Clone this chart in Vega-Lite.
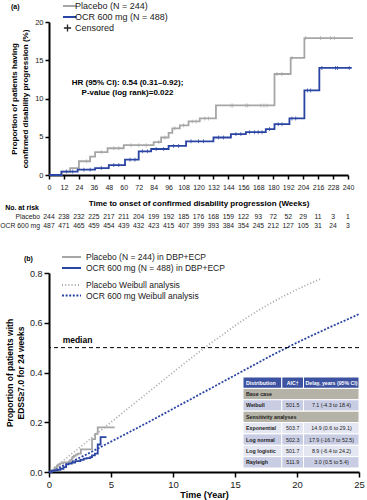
{
"$schema": "https://vega.github.io/schema/vega-lite/v6.json",
"padding": {"left": 0, "top": 1, "right": 4, "bottom": 1},
"spacing": 22,
"resolve": {"scale": {"color": "independent", "stroke": "independent", "strokeDash": "independent", "fill": "independent"}, "legend": {"color": "independent", "stroke": "independent", "strokeDash": "independent"}},
"config": {
 "view": {"stroke": null},
 "font": "Liberation Sans",
 "axis": {"domainColor": "#000", "domainWidth": 2, "tickColor": "#000", "tickWidth": 1.5, "labelColor": "#1a1a1a", "titleColor": "#000", "grid": false, "labelFont": "Liberation Sans", "titleFont": "Liberation Sans"},
 "legend": {"labelFont": "Liberation Sans", "labelColor": "#1a1a1a"},
 "title": {"font": "Liberation Sans", "color": "#000"}
},
"datasets": {
 "kmA": [
  {"arm": "Placebo (N = 244)", "t": 0, "v": 0}, {"arm": "Placebo (N = 244)", "t": 10, "v": 0.45}, {"arm": "Placebo (N = 244)", "t": 17, "v": 0.9}, {"arm": "Placebo (N = 244)", "t": 24, "v": 1.8}, {"arm": "Placebo (N = 244)", "t": 33, "v": 2.4}, {"arm": "Placebo (N = 244)", "t": 37, "v": 3.0}, {"arm": "Placebo (N = 244)", "t": 47, "v": 3.5}, {"arm": "Placebo (N = 244)", "t": 60, "v": 3.9}, {"arm": "Placebo (N = 244)", "t": 84, "v": 4.3}, {"arm": "Placebo (N = 244)", "t": 90, "v": 4.9}, {"arm": "Placebo (N = 244)", "t": 96, "v": 5.5}, {"arm": "Placebo (N = 244)", "t": 99, "v": 6.1}, {"arm": "Placebo (N = 244)", "t": 105, "v": 6.5}, {"arm": "Placebo (N = 244)", "t": 112, "v": 7.0}, {"arm": "Placebo (N = 244)", "t": 121, "v": 7.4}, {"arm": "Placebo (N = 244)", "t": 134, "v": 9.1}, {"arm": "Placebo (N = 244)", "t": 181, "v": 13.2}, {"arm": "Placebo (N = 244)", "t": 194, "v": 15.3}, {"arm": "Placebo (N = 244)", "t": 205, "v": 17.9}, {"arm": "Placebo (N = 244)", "t": 244, "v": 17.9},
  {"arm": "OCR 600 mg (N = 488)", "t": 0, "v": 0}, {"arm": "OCR 600 mg (N = 488)", "t": 10, "v": 0.45}, {"arm": "OCR 600 mg (N = 488)", "t": 23, "v": 0.7}, {"arm": "OCR 600 mg (N = 488)", "t": 37, "v": 0.9}, {"arm": "OCR 600 mg (N = 488)", "t": 48, "v": 1.3}, {"arm": "OCR 600 mg (N = 488)", "t": 61, "v": 2.0}, {"arm": "OCR 600 mg (N = 488)", "t": 72, "v": 3.1}, {"arm": "OCR 600 mg (N = 488)", "t": 82, "v": 3.4}, {"arm": "OCR 600 mg (N = 488)", "t": 96, "v": 3.8}, {"arm": "OCR 600 mg (N = 488)", "t": 110, "v": 4.4}, {"arm": "OCR 600 mg (N = 488)", "t": 132, "v": 4.9}, {"arm": "OCR 600 mg (N = 488)", "t": 146, "v": 5.35}, {"arm": "OCR 600 mg (N = 488)", "t": 158, "v": 5.6}, {"arm": "OCR 600 mg (N = 488)", "t": 174, "v": 6.0}, {"arm": "OCR 600 mg (N = 488)", "t": 181, "v": 6.65}, {"arm": "OCR 600 mg (N = 488)", "t": 193, "v": 7.4}, {"arm": "OCR 600 mg (N = 488)", "t": 205, "v": 11.05}, {"arm": "OCR 600 mg (N = 488)", "t": 217, "v": 14.0}, {"arm": "OCR 600 mg (N = 488)", "t": 243, "v": 14.0}
 ],
 "censA": [
  {"arm": "Placebo (N = 244)", "t": 30, "v": 1.8}, {"arm": "Placebo (N = 244)", "t": 42, "v": 3.0}, {"arm": "Placebo (N = 244)", "t": 52, "v": 3.5}, {"arm": "Placebo (N = 244)", "t": 56, "v": 3.5}, {"arm": "Placebo (N = 244)", "t": 66, "v": 3.9}, {"arm": "Placebo (N = 244)", "t": 72, "v": 3.9}, {"arm": "Placebo (N = 244)", "t": 78, "v": 3.9}, {"arm": "Placebo (N = 244)", "t": 88, "v": 4.3}, {"arm": "Placebo (N = 244)", "t": 93, "v": 4.9}, {"arm": "Placebo (N = 244)", "t": 101, "v": 6.1}, {"arm": "Placebo (N = 244)", "t": 108, "v": 6.5}, {"arm": "Placebo (N = 244)", "t": 115, "v": 7.0}, {"arm": "Placebo (N = 244)", "t": 118, "v": 7.0}, {"arm": "Placebo (N = 244)", "t": 125, "v": 7.4}, {"arm": "Placebo (N = 244)", "t": 128, "v": 7.4}, {"arm": "Placebo (N = 244)", "t": 146, "v": 9.1}, {"arm": "Placebo (N = 244)", "t": 147.5, "v": 9.1}, {"arm": "Placebo (N = 244)", "t": 158, "v": 9.1}, {"arm": "Placebo (N = 244)", "t": 159.5, "v": 9.1}, {"arm": "Placebo (N = 244)", "t": 170, "v": 9.1}, {"arm": "Placebo (N = 244)", "t": 172.5, "v": 9.1}, {"arm": "Placebo (N = 244)", "t": 175, "v": 9.1}, {"arm": "Placebo (N = 244)", "t": 183, "v": 13.2}, {"arm": "Placebo (N = 244)", "t": 187, "v": 13.2}, {"arm": "Placebo (N = 244)", "t": 195, "v": 15.3}, {"arm": "Placebo (N = 244)", "t": 206, "v": 17.9}, {"arm": "Placebo (N = 244)", "t": 218, "v": 17.9}, {"arm": "Placebo (N = 244)", "t": 226, "v": 17.9}, {"arm": "Placebo (N = 244)", "t": 229, "v": 17.9},
  {"arm": "OCR 600 mg (N = 488)", "t": 14, "v": 0.45}, {"arm": "OCR 600 mg (N = 488)", "t": 19, "v": 0.45}, {"arm": "OCR 600 mg (N = 488)", "t": 28, "v": 0.7}, {"arm": "OCR 600 mg (N = 488)", "t": 33, "v": 0.7}, {"arm": "OCR 600 mg (N = 488)", "t": 42, "v": 0.9}, {"arm": "OCR 600 mg (N = 488)", "t": 52, "v": 1.3}, {"arm": "OCR 600 mg (N = 488)", "t": 56, "v": 1.3}, {"arm": "OCR 600 mg (N = 488)", "t": 65, "v": 2.0}, {"arm": "OCR 600 mg (N = 488)", "t": 69, "v": 2.0}, {"arm": "OCR 600 mg (N = 488)", "t": 75, "v": 3.1}, {"arm": "OCR 600 mg (N = 488)", "t": 79, "v": 3.1}, {"arm": "OCR 600 mg (N = 488)", "t": 86, "v": 3.4}, {"arm": "OCR 600 mg (N = 488)", "t": 92, "v": 3.4}, {"arm": "OCR 600 mg (N = 488)", "t": 100, "v": 3.8}, {"arm": "OCR 600 mg (N = 488)", "t": 104, "v": 3.8}, {"arm": "OCR 600 mg (N = 488)", "t": 114, "v": 4.4}, {"arm": "OCR 600 mg (N = 488)", "t": 120, "v": 4.4}, {"arm": "OCR 600 mg (N = 488)", "t": 124, "v": 4.4}, {"arm": "OCR 600 mg (N = 488)", "t": 136, "v": 4.9}, {"arm": "OCR 600 mg (N = 488)", "t": 140, "v": 4.9}, {"arm": "OCR 600 mg (N = 488)", "t": 150, "v": 5.35}, {"arm": "OCR 600 mg (N = 488)", "t": 154, "v": 5.35}, {"arm": "OCR 600 mg (N = 488)", "t": 161, "v": 5.6}, {"arm": "OCR 600 mg (N = 488)", "t": 165, "v": 5.6}, {"arm": "OCR 600 mg (N = 488)", "t": 168, "v": 5.6}, {"arm": "OCR 600 mg (N = 488)", "t": 171, "v": 5.6}, {"arm": "OCR 600 mg (N = 488)", "t": 177, "v": 6.0}, {"arm": "OCR 600 mg (N = 488)", "t": 184, "v": 6.65}, {"arm": "OCR 600 mg (N = 488)", "t": 187, "v": 6.65}, {"arm": "OCR 600 mg (N = 488)", "t": 195, "v": 7.4}, {"arm": "OCR 600 mg (N = 488)", "t": 198, "v": 7.4}, {"arm": "OCR 600 mg (N = 488)", "t": 207.5, "v": 11.05}, {"arm": "OCR 600 mg (N = 488)", "t": 210, "v": 11.05}, {"arm": "OCR 600 mg (N = 488)", "t": 219, "v": 14.0}, {"arm": "OCR 600 mg (N = 488)", "t": 230, "v": 14.0}, {"arm": "OCR 600 mg (N = 488)", "t": 231.5, "v": 14.0}, {"arm": "OCR 600 mg (N = 488)", "t": 241, "v": 14.0}
 ],
 "atRisk": [
  {"row": "Placebo", "t": 0, "n": 244}, {"row": "Placebo", "t": 12, "n": 238}, {"row": "Placebo", "t": 24, "n": 232}, {"row": "Placebo", "t": 36, "n": 225}, {"row": "Placebo", "t": 48, "n": 217}, {"row": "Placebo", "t": 60, "n": 211}, {"row": "Placebo", "t": 72, "n": 204}, {"row": "Placebo", "t": 84, "n": 199}, {"row": "Placebo", "t": 96, "n": 192}, {"row": "Placebo", "t": 108, "n": 185}, {"row": "Placebo", "t": 120, "n": 176}, {"row": "Placebo", "t": 132, "n": 168}, {"row": "Placebo", "t": 144, "n": 159}, {"row": "Placebo", "t": 156, "n": 122}, {"row": "Placebo", "t": 168, "n": 93}, {"row": "Placebo", "t": 180, "n": 72}, {"row": "Placebo", "t": 192, "n": 52}, {"row": "Placebo", "t": 204, "n": 29}, {"row": "Placebo", "t": 216, "n": 11}, {"row": "Placebo", "t": 228, "n": 3}, {"row": "Placebo", "t": 240, "n": 1},
  {"row": "OCR 600 mg", "t": 0, "n": 487}, {"row": "OCR 600 mg", "t": 12, "n": 471}, {"row": "OCR 600 mg", "t": 24, "n": 465}, {"row": "OCR 600 mg", "t": 36, "n": 459}, {"row": "OCR 600 mg", "t": 48, "n": 454}, {"row": "OCR 600 mg", "t": 60, "n": 439}, {"row": "OCR 600 mg", "t": 72, "n": 432}, {"row": "OCR 600 mg", "t": 84, "n": 423}, {"row": "OCR 600 mg", "t": 96, "n": 415}, {"row": "OCR 600 mg", "t": 108, "n": 407}, {"row": "OCR 600 mg", "t": 120, "n": 399}, {"row": "OCR 600 mg", "t": 132, "n": 393}, {"row": "OCR 600 mg", "t": 144, "n": 384}, {"row": "OCR 600 mg", "t": 156, "n": 354}, {"row": "OCR 600 mg", "t": 168, "n": 245}, {"row": "OCR 600 mg", "t": 180, "n": 212}, {"row": "OCR 600 mg", "t": 192, "n": 127}, {"row": "OCR 600 mg", "t": 204, "n": 105}, {"row": "OCR 600 mg", "t": 216, "n": 31}, {"row": "OCR 600 mg", "t": 228, "n": 24}, {"row": "OCR 600 mg", "t": 240, "n": 3}
 ],
 "riskLabels": [
  {"row": "No. at risk", "label": "No. at risk"}, {"row": "Placebo", "label": "Placebo"}, {"row": "OCR 600 mg", "label": "OCR 600 mg"}
 ],
 "kmB": [
  {"arm": "Placebo (N = 244) in DBP+ECP", "t": 0, "v": 0}, {"arm": "Placebo (N = 244) in DBP+ECP", "t": 0.19, "v": 0.0045}, {"arm": "Placebo (N = 244) in DBP+ECP", "t": 0.33, "v": 0.009}, {"arm": "Placebo (N = 244) in DBP+ECP", "t": 0.46, "v": 0.018}, {"arm": "Placebo (N = 244) in DBP+ECP", "t": 0.63, "v": 0.024}, {"arm": "Placebo (N = 244) in DBP+ECP", "t": 0.71, "v": 0.03}, {"arm": "Placebo (N = 244) in DBP+ECP", "t": 0.9, "v": 0.035}, {"arm": "Placebo (N = 244) in DBP+ECP", "t": 1.15, "v": 0.039}, {"arm": "Placebo (N = 244) in DBP+ECP", "t": 1.61, "v": 0.043}, {"arm": "Placebo (N = 244) in DBP+ECP", "t": 1.72, "v": 0.049}, {"arm": "Placebo (N = 244) in DBP+ECP", "t": 1.84, "v": 0.055}, {"arm": "Placebo (N = 244) in DBP+ECP", "t": 1.9, "v": 0.061}, {"arm": "Placebo (N = 244) in DBP+ECP", "t": 2.01, "v": 0.065}, {"arm": "Placebo (N = 244) in DBP+ECP", "t": 2.15, "v": 0.07}, {"arm": "Placebo (N = 244) in DBP+ECP", "t": 2.32, "v": 0.074}, {"arm": "Placebo (N = 244) in DBP+ECP", "t": 2.57, "v": 0.091}, {"arm": "Placebo (N = 244) in DBP+ECP", "t": 3.47, "v": 0.132}, {"arm": "Placebo (N = 244) in DBP+ECP", "t": 3.72, "v": 0.153}, {"arm": "Placebo (N = 244) in DBP+ECP", "t": 3.93, "v": 0.179}, {"arm": "Placebo (N = 244) in DBP+ECP", "t": 5.3, "v": 0.179},
  {"arm": "OCR 600 mg (N = 488) in DBP+ECP", "t": 0, "v": 0}, {"arm": "OCR 600 mg (N = 488) in DBP+ECP", "t": 0.19, "v": 0.0045}, {"arm": "OCR 600 mg (N = 488) in DBP+ECP", "t": 0.44, "v": 0.007}, {"arm": "OCR 600 mg (N = 488) in DBP+ECP", "t": 0.71, "v": 0.009}, {"arm": "OCR 600 mg (N = 488) in DBP+ECP", "t": 0.92, "v": 0.013}, {"arm": "OCR 600 mg (N = 488) in DBP+ECP", "t": 1.17, "v": 0.02}, {"arm": "OCR 600 mg (N = 488) in DBP+ECP", "t": 1.38, "v": 0.031}, {"arm": "OCR 600 mg (N = 488) in DBP+ECP", "t": 1.57, "v": 0.034}, {"arm": "OCR 600 mg (N = 488) in DBP+ECP", "t": 1.84, "v": 0.038}, {"arm": "OCR 600 mg (N = 488) in DBP+ECP", "t": 2.11, "v": 0.044}, {"arm": "OCR 600 mg (N = 488) in DBP+ECP", "t": 2.53, "v": 0.049}, {"arm": "OCR 600 mg (N = 488) in DBP+ECP", "t": 2.8, "v": 0.0535}, {"arm": "OCR 600 mg (N = 488) in DBP+ECP", "t": 3.03, "v": 0.056}, {"arm": "OCR 600 mg (N = 488) in DBP+ECP", "t": 3.33, "v": 0.06}, {"arm": "OCR 600 mg (N = 488) in DBP+ECP", "t": 3.47, "v": 0.0665}, {"arm": "OCR 600 mg (N = 488) in DBP+ECP", "t": 3.7, "v": 0.074}, {"arm": "OCR 600 mg (N = 488) in DBP+ECP", "t": 3.93, "v": 0.1105}, {"arm": "OCR 600 mg (N = 488) in DBP+ECP", "t": 4.16, "v": 0.14}, {"arm": "OCR 600 mg (N = 488) in DBP+ECP", "t": 4.64, "v": 0.14}
 ],
 "weibull": [
  {"model": "Placebo Weibull analysis", "t": 0, "v": 0}, {"model": "Placebo Weibull analysis", "t": 1, "v": 0.04}, {"model": "Placebo Weibull analysis", "t": 2, "v": 0.08}, {"model": "Placebo Weibull analysis", "t": 3, "v": 0.12}, {"model": "Placebo Weibull analysis", "t": 4, "v": 0.16}, {"model": "Placebo Weibull analysis", "t": 5, "v": 0.2}, {"model": "Placebo Weibull analysis", "t": 6, "v": 0.24}, {"model": "Placebo Weibull analysis", "t": 7, "v": 0.28}, {"model": "Placebo Weibull analysis", "t": 8, "v": 0.32}, {"model": "Placebo Weibull analysis", "t": 9, "v": 0.36}, {"model": "Placebo Weibull analysis", "t": 10, "v": 0.4}, {"model": "Placebo Weibull analysis", "t": 11, "v": 0.44}, {"model": "Placebo Weibull analysis", "t": 12, "v": 0.478}, {"model": "Placebo Weibull analysis", "t": 13, "v": 0.516}, {"model": "Placebo Weibull analysis", "t": 14, "v": 0.552}, {"model": "Placebo Weibull analysis", "t": 15, "v": 0.588}, {"model": "Placebo Weibull analysis", "t": 16, "v": 0.622}, {"model": "Placebo Weibull analysis", "t": 17, "v": 0.653}, {"model": "Placebo Weibull analysis", "t": 18, "v": 0.682}, {"model": "Placebo Weibull analysis", "t": 19, "v": 0.709}, {"model": "Placebo Weibull analysis", "t": 20, "v": 0.734}, {"model": "Placebo Weibull analysis", "t": 21, "v": 0.757}, {"model": "Placebo Weibull analysis", "t": 22, "v": 0.778},
  {"model": "OCR 600 mg Weibull analysis", "t": 0, "v": 0}, {"model": "OCR 600 mg Weibull analysis", "t": 1, "v": 0.022}, {"model": "OCR 600 mg Weibull analysis", "t": 2, "v": 0.046}, {"model": "OCR 600 mg Weibull analysis", "t": 3, "v": 0.07}, {"model": "OCR 600 mg Weibull analysis", "t": 4, "v": 0.096}, {"model": "OCR 600 mg Weibull analysis", "t": 5, "v": 0.122}, {"model": "OCR 600 mg Weibull analysis", "t": 6, "v": 0.148}, {"model": "OCR 600 mg Weibull analysis", "t": 7, "v": 0.174}, {"model": "OCR 600 mg Weibull analysis", "t": 8, "v": 0.2}, {"model": "OCR 600 mg Weibull analysis", "t": 9, "v": 0.227}, {"model": "OCR 600 mg Weibull analysis", "t": 10, "v": 0.254}, {"model": "OCR 600 mg Weibull analysis", "t": 11, "v": 0.281}, {"model": "OCR 600 mg Weibull analysis", "t": 12, "v": 0.308}, {"model": "OCR 600 mg Weibull analysis", "t": 13, "v": 0.335}, {"model": "OCR 600 mg Weibull analysis", "t": 14, "v": 0.362}, {"model": "OCR 600 mg Weibull analysis", "t": 15, "v": 0.389}, {"model": "OCR 600 mg Weibull analysis", "t": 16, "v": 0.416}, {"model": "OCR 600 mg Weibull analysis", "t": 17, "v": 0.443}, {"model": "OCR 600 mg Weibull analysis", "t": 18, "v": 0.47}, {"model": "OCR 600 mg Weibull analysis", "t": 19, "v": 0.495}, {"model": "OCR 600 mg Weibull analysis", "t": 20, "v": 0.52}, {"model": "OCR 600 mg Weibull analysis", "t": 21, "v": 0.544}, {"model": "OCR 600 mg Weibull analysis", "t": 22, "v": 0.567}, {"model": "OCR 600 mg Weibull analysis", "t": 23, "v": 0.59}, {"model": "OCR 600 mg Weibull analysis", "t": 24, "v": 0.612}, {"model": "OCR 600 mg Weibull analysis", "t": 25, "v": 0.635}
 ],
 "table": [
  {"row": 0, "col": 0, "colEnd": 1, "kind": "header", "text": "Distribution"}, {"row": 0, "col": 1, "colEnd": 2, "kind": "header", "text": "AIC†"}, {"row": 0, "col": 2, "colEnd": 3, "kind": "header", "text": "Delay, years (95% CI)"},
  {"row": 1, "col": 0, "colEnd": 3, "kind": "section", "text": "Base case"},
  {"row": 2, "col": 0, "colEnd": 1, "kind": "A", "text": "Weibull"}, {"row": 2, "col": 1, "colEnd": 2, "kind": "A", "text": "501.5"}, {"row": 2, "col": 2, "colEnd": 3, "kind": "A", "text": "7.1 (-4.3 to 18.4)"},
  {"row": 3, "col": 0, "colEnd": 3, "kind": "section", "text": "Sensitivity analyses"},
  {"row": 4, "col": 0, "colEnd": 1, "kind": "B", "text": "Exponential"}, {"row": 4, "col": 1, "colEnd": 2, "kind": "B", "text": "503.7"}, {"row": 4, "col": 2, "colEnd": 3, "kind": "B", "text": "14.9 (0.6 to 29.1)"},
  {"row": 5, "col": 0, "colEnd": 1, "kind": "A", "text": "Log normal"}, {"row": 5, "col": 1, "colEnd": 2, "kind": "A", "text": "502.3"}, {"row": 5, "col": 2, "colEnd": 3, "kind": "A", "text": "17.9 (-16.7 to 52.5)"},
  {"row": 6, "col": 0, "colEnd": 1, "kind": "B", "text": "Log logistic"}, {"row": 6, "col": 1, "colEnd": 2, "kind": "B", "text": "501.7"}, {"row": 6, "col": 2, "colEnd": 3, "kind": "B", "text": "8.9 (-6.4 to 24.2)"},
  {"row": 7, "col": 0, "colEnd": 1, "kind": "A", "text": "Rayleigh"}, {"row": 7, "col": 1, "colEnd": 2, "kind": "A", "text": "511.9"}, {"row": 7, "col": 2, "colEnd": 3, "kind": "A", "text": "3.0 (0.5 to 5.4)"}
 ]
},
"vconcat": [
 {
  "width": 299, "height": 153,
  "title": {"text": "(a)", "anchor": "start", "frame": "group", "fontSize": 7, "fontWeight": "bold", "dx": -38, "dy": 9, "offset": 0},
  "resolve": {"scale": {"y": "independent"}},
  "layer": [
   {"layer": [
    {"data": {"name": "kmA"},
     "mark": {"type": "line", "interpolate": "step-after", "strokeWidth": 1.8, "clip": false},
     "encoding": {
      "x": {"field": "t", "type": "quantitative", "scale": {"domain": [0, 240], "nice": false},
            "axis": {"values": [0,12,24,36,48,60,72,84,96,108,120,132,144,156,168,180,192,204,216,228,240], "title": "Time to onset of confirmed disability progression (Weeks)", "labelFontSize": 7, "labelOverlap": false, "labelFlush": false, "tickSize": 4, "labelPadding": 4, "titleFontSize": 8, "titleFontWeight": "bold", "titlePadding": 9}},
      "y": {"field": "v", "type": "quantitative", "scale": {"domain": [0, 20], "nice": false},
            "axis": {"values": [0,5,10,15,20], "title": ["Proportion of patients having", "confirmed disability progression (%)"], "labelFontSize": 7.5, "tickSize": 4, "titleFontSize": 8, "titleFontWeight": "bold", "titlePadding": 5, "titleLineHeight": 11}},
      "color": {"field": "arm", "type": "nominal",
                "scale": {"domain": ["Placebo (N = 244)", "OCR 600 mg (N = 488)", "Censored"], "range": ["#a6a6a6", "#2a44a3", "#222222"]},
                "legend": {"title": null, "orient": "none", "legendX": 14, "legendY": -21, "symbolType": "stroke", "symbolSize": 324, "symbolStrokeWidth": 2, "labelFontSize": 9, "labelOffset": 3, "clipHeight": 10, "rowPadding": 1, "padding": 0,
                  "encode": {"symbols": {"update": {"shape": {"signal": "datum.value === 'Censored' ? 'M-0.4,0H0.4M0,-0.4V0.4' : 'stroke'"}, "strokeWidth": {"signal": "datum.value === 'Censored' ? 1.3 : 2"}}}}}}
     }},
    {"data": {"name": "censA"},
     "mark": {"type": "tick", "orient": "vertical", "size": 4, "thickness": 1},
     "encoding": {
      "x": {"field": "t", "type": "quantitative", "scale": {"domain": [0, 240], "nice": false},
            "axis": {"values": [0,12,24,36,48,60,72,84,96,108,120,132,144,156,168,180,192,204,216,228,240], "title": "Time to onset of confirmed disability progression (Weeks)", "labelFontSize": 7, "labelOverlap": false, "labelFlush": false, "tickSize": 4, "labelPadding": 4, "titleFontSize": 8, "titleFontWeight": "bold", "titlePadding": 9}},
      "y": {"field": "v", "type": "quantitative", "scale": {"domain": [0, 20], "nice": false},
            "axis": {"values": [0,5,10,15,20], "title": ["Proportion of patients having", "confirmed disability progression (%)"], "labelFontSize": 7.5, "tickSize": 4, "titleFontSize": 8, "titleFontWeight": "bold", "titlePadding": 5, "titleLineHeight": 11}},
      "color": {"field": "arm", "type": "nominal"}
     }},
    {"data": {"values": [{}]},
     "mark": {"type": "text", "fontSize": 8, "fontWeight": "bold", "align": "center", "baseline": "middle", "lineHeight": 10, "color": "#000"},
     "encoding": {
      "x": {"datum": 63, "type": "quantitative", "scale": {"domain": [0, 240], "nice": false},
            "axis": {"values": [0,12,24,36,48,60,72,84,96,108,120,132,144,156,168,180,192,204,216,228,240], "title": "Time to onset of confirmed disability progression (Weeks)", "labelFontSize": 7, "labelOverlap": false, "labelFlush": false, "tickSize": 4, "labelPadding": 4, "titleFontSize": 8, "titleFontWeight": "bold", "titlePadding": 9}},
      "y": {"datum": 12.0, "type": "quantitative", "scale": {"domain": [0, 20], "nice": false},
            "axis": {"values": [0,5,10,15,20], "title": ["Proportion of patients having", "confirmed disability progression (%)"], "labelFontSize": 7.5, "tickSize": 4, "titleFontSize": 8, "titleFontWeight": "bold", "titlePadding": 5, "titleLineHeight": 11}},
      "text": {"value": ["HR (95% CI): 0.54 (0.31–0.92);", "P-value (log rank)=0.022"]}
     }}
   ]},
   {"data": {"name": "atRisk"},
    "mark": {"type": "text", "fontSize": 6.8, "align": "center", "baseline": "middle", "color": "#1a1a1a"},
    "encoding": {
     "x": {"field": "t", "type": "quantitative", "scale": {"domain": [0, 240], "nice": false},
            "axis": {"values": [0,12,24,36,48,60,72,84,96,108,120,132,144,156,168,180,192,204,216,228,240], "title": "Time to onset of confirmed disability progression (Weeks)", "labelFontSize": 7, "labelOverlap": false, "labelFlush": false, "tickSize": 4, "labelPadding": 4, "titleFontSize": 8, "titleFontWeight": "bold", "titlePadding": 9}},
     "y": {"field": "row", "type": "nominal", "scale": {"type": "point", "domain": ["No. at risk", "Placebo", "OCR 600 mg"], "range": [186, 204], "padding": 0}, "axis": null},
     "text": {"field": "n", "type": "nominal"}
    }},
   {"data": {"name": "riskLabels"},
    "transform": [{"filter": "datum.row !== 'No. at risk'"}],
    "mark": {"type": "text", "fontSize": 6.8, "align": "right", "baseline": "middle", "dx": -9, "color": "#1a1a1a"},
    "encoding": {
     "x": {"datum": 0, "type": "quantitative", "scale": {"domain": [0, 240], "nice": false},
            "axis": {"values": [0,12,24,36,48,60,72,84,96,108,120,132,144,156,168,180,192,204,216,228,240], "title": "Time to onset of confirmed disability progression (Weeks)", "labelFontSize": 7, "labelOverlap": false, "labelFlush": false, "tickSize": 4, "labelPadding": 4, "titleFontSize": 8, "titleFontWeight": "bold", "titlePadding": 9}},
     "y": {"field": "row", "type": "nominal", "scale": {"type": "point", "domain": ["No. at risk", "Placebo", "OCR 600 mg"], "range": [186, 204], "padding": 0}, "axis": null},
     "text": {"field": "label", "type": "nominal"}
    }},
   {"data": {"name": "riskLabels"},
    "transform": [{"filter": "datum.row === 'No. at risk'"}],
    "mark": {"type": "text", "fontSize": 7, "fontWeight": "bold", "align": "right", "baseline": "middle", "dx": -10, "color": "#000"},
    "encoding": {
     "x": {"datum": 0, "type": "quantitative", "scale": {"domain": [0, 240], "nice": false},
            "axis": {"values": [0,12,24,36,48,60,72,84,96,108,120,132,144,156,168,180,192,204,216,228,240], "title": "Time to onset of confirmed disability progression (Weeks)", "labelFontSize": 7, "labelOverlap": false, "labelFlush": false, "tickSize": 4, "labelPadding": 4, "titleFontSize": 8, "titleFontWeight": "bold", "titlePadding": 9}},
     "y": {"field": "row", "type": "nominal", "scale": {"type": "point", "domain": ["No. at risk", "Placebo", "OCR 600 mg"], "range": [186, 204], "padding": 0}, "axis": null},
     "text": {"field": "label", "type": "nominal"}
    }}
  ]
 },
 {
  "width": 310, "height": 199,
  "title": {"text": "(b)", "anchor": "start", "frame": "group", "fontSize": 7, "fontWeight": "bold", "dx": -25, "dy": 10, "offset": 0},
  "resolve": {"scale": {"x": "independent", "y": "independent"}},
  "layer": [
   {"layer": [
    {"data": {"name": "weibull"},
     "mark": {"type": "line", "strokeWidth": 1.8},
     "encoding": {
      "x": {"field": "t", "type": "quantitative", "scale": {"domain": [0, 25], "nice": false},
            "axis": {"values": [0,5,10,15,20,25], "title": "Time (Year)", "labelFontSize": 9.5, "labelFlush": false, "tickSize": 5, "labelPadding": 2, "titleFontSize": 9, "titleFontWeight": "bold", "titlePadding": 2}},
      "y": {"field": "v", "type": "quantitative", "scale": {"domain": [0, 0.8], "nice": false},
            "axis": {"values": [0, 0.2, 0.4, 0.6, 0.8], "format": ".1f", "title": ["Proportion of patients with", "EDSS≥7.0 for 24 weeks"], "labelFontSize": 9, "tickSize": 5, "titleFontSize": 8.5, "titleFontWeight": "bold", "titlePadding": 4, "titleLineHeight": 11}},
      "stroke": {"field": "model", "type": "nominal",
                 "scale": {"domain": ["Placebo Weibull analysis", "OCR 600 mg Weibull analysis"], "range": ["#a6a6a6", "#2a44a3"]},
                 "legend": {"title": null, "orient": "none", "legendX": 12, "legendY": 7, "symbolType": "stroke", "symbolSize": 361, "symbolStrokeWidth": 2, "labelFontSize": 8.5, "labelOffset": 4, "clipHeight": 10, "rowPadding": 0.5, "padding": 0}},
      "strokeDash": {"field": "model", "type": "nominal",
                 "scale": {"domain": ["Placebo Weibull analysis", "OCR 600 mg Weibull analysis"], "range": [[1, 2.2], [2, 1.6]]}}
     }},
    {"data": {"name": "kmB"},
     "mark": {"type": "line", "interpolate": "step-after", "strokeWidth": 1.8},
     "encoding": {
      "x": {"field": "t", "type": "quantitative", "scale": {"domain": [0, 25], "nice": false},
            "axis": {"values": [0,5,10,15,20,25], "title": "Time (Year)", "labelFontSize": 9.5, "labelFlush": false, "tickSize": 5, "labelPadding": 2, "titleFontSize": 9, "titleFontWeight": "bold", "titlePadding": 2}},
      "y": {"field": "v", "type": "quantitative", "scale": {"domain": [0, 0.8], "nice": false},
            "axis": {"values": [0, 0.2, 0.4, 0.6, 0.8], "format": ".1f", "title": ["Proportion of patients with", "EDSS≥7.0 for 24 weeks"], "labelFontSize": 9, "tickSize": 5, "titleFontSize": 8.5, "titleFontWeight": "bold", "titlePadding": 4, "titleLineHeight": 11}},
      "color": {"field": "arm", "type": "nominal",
                "scale": {"domain": ["Placebo (N = 244) in DBP+ECP", "OCR 600 mg (N = 488) in DBP+ECP"], "range": ["#a6a6a6", "#2a44a3"]},
                "legend": {"title": null, "orient": "none", "legendX": 12, "legendY": -21, "symbolType": "stroke", "symbolSize": 361, "symbolStrokeWidth": 2, "labelFontSize": 8.5, "labelOffset": 4, "clipHeight": 10, "rowPadding": 1, "padding": 0}}
     }},
    {"data": {"values": [{}]},
     "mark": {"type": "rule", "strokeDash": [4, 3], "color": "#000", "strokeWidth": 1},
     "encoding": {"y": {"datum": 0.5, "type": "quantitative", "scale": {"domain": [0, 0.8], "nice": false},
            "axis": {"values": [0, 0.2, 0.4, 0.6, 0.8], "format": ".1f", "title": ["Proportion of patients with", "EDSS≥7.0 for 24 weeks"], "labelFontSize": 9, "tickSize": 5, "titleFontSize": 8.5, "titleFontWeight": "bold", "titlePadding": 4, "titleLineHeight": 11}}}},
    {"data": {"values": [{}]},
     "mark": {"type": "text", "align": "left", "baseline": "alphabetic", "fontWeight": "bold", "fontSize": 8.5, "color": "#000"},
     "encoding": {
      "x": {"datum": 1.1, "type": "quantitative", "scale": {"domain": [0, 25], "nice": false},
            "axis": {"values": [0,5,10,15,20,25], "title": "Time (Year)", "labelFontSize": 9.5, "labelFlush": false, "tickSize": 5, "labelPadding": 2, "titleFontSize": 9, "titleFontWeight": "bold", "titlePadding": 2}},
      "y": {"datum": 0.52, "type": "quantitative", "scale": {"domain": [0, 0.8], "nice": false},
            "axis": {"values": [0, 0.2, 0.4, 0.6, 0.8], "format": ".1f", "title": ["Proportion of patients with", "EDSS≥7.0 for 24 weeks"], "labelFontSize": 9, "tickSize": 5, "titleFontSize": 8.5, "titleFontWeight": "bold", "titlePadding": 4, "titleLineHeight": 11}},
      "text": {"value": "median"}
     }}
   ]},
   {"data": {"name": "table"},
    "mark": {"type": "rect", "stroke": "white", "strokeWidth": 1},
    "encoding": {
     "x": {"field": "col", "type": "quantitative", "scale": {"domain": [0, 1, 2, 3], "range": [194, 232.8, 254.5, 310], "nice": false, "zero": false}, "axis": null},
     "x2": {"field": "colEnd"},
     "y": {"field": "row", "type": "ordinal", "scale": {"type": "band", "domain": [0, 1, 2, 3, 4, 5, 6, 7], "range": [104, 195], "paddingInner": 0, "paddingOuter": 0}, "axis": null},
     "fill": {"field": "kind", "type": "nominal", "scale": {"domain": ["header", "section", "A", "B"], "range": ["#3d52a1", "#b5b3a7", "#c9cde4", "#e4e6f1"]}, "legend": null}
    }},
   {"data": {"name": "table"},
    "transform": [{"filter": "datum.col === 0"}],
    "mark": {"type": "text", "align": "left", "baseline": "middle", "fontSize": 5.3, "fontWeight": "bold"},
    "encoding": {
     "x": {"field": "col", "type": "quantitative", "scale": {"domain": [0, 1], "range": [197, 235], "nice": false, "zero": false}, "axis": null},
     "y": {"field": "row", "type": "ordinal", "scale": {"type": "band", "domain": [0, 1, 2, 3, 4, 5, 6, 7], "range": [104, 195], "paddingInner": 0, "paddingOuter": 0}, "axis": null},
     "text": {"field": "text", "type": "nominal"},
     "color": {"condition": {"test": "datum.kind === 'header'", "value": "white"}, "value": "#1a1a1a"}
    }},
   {"data": {"name": "table"},
    "transform": [{"filter": "datum.col > 0 && datum.kind === 'header'"}],
    "mark": {"type": "text", "align": "center", "baseline": "middle", "fontSize": 5.2, "fontWeight": "bold", "color": "white"},
    "encoding": {
     "x": {"field": "col", "type": "quantitative", "scale": {"domain": [1, 2], "range": [243.7, 282.5], "nice": false, "zero": false}, "axis": null},
     "y": {"field": "row", "type": "ordinal", "scale": {"type": "band", "domain": [0, 1, 2, 3, 4, 5, 6, 7], "range": [104, 195], "paddingInner": 0, "paddingOuter": 0}, "axis": null},
     "text": {"field": "text", "type": "nominal"}
    }},
   {"data": {"name": "table"},
    "transform": [{"filter": "datum.col > 0 && datum.kind !== 'header'"}],
    "mark": {"type": "text", "align": "center", "baseline": "middle", "fontSize": 5.3, "color": "#1a1a1a"},
    "encoding": {
     "x": {"field": "col", "type": "quantitative", "scale": {"domain": [1, 2], "range": [243.7, 282.5], "nice": false, "zero": false}, "axis": null},
     "y": {"field": "row", "type": "ordinal", "scale": {"type": "band", "domain": [0, 1, 2, 3, 4, 5, 6, 7], "range": [104, 195], "paddingInner": 0, "paddingOuter": 0}, "axis": null},
     "text": {"field": "text", "type": "nominal"}
    }}
  ]
 }
]
}
